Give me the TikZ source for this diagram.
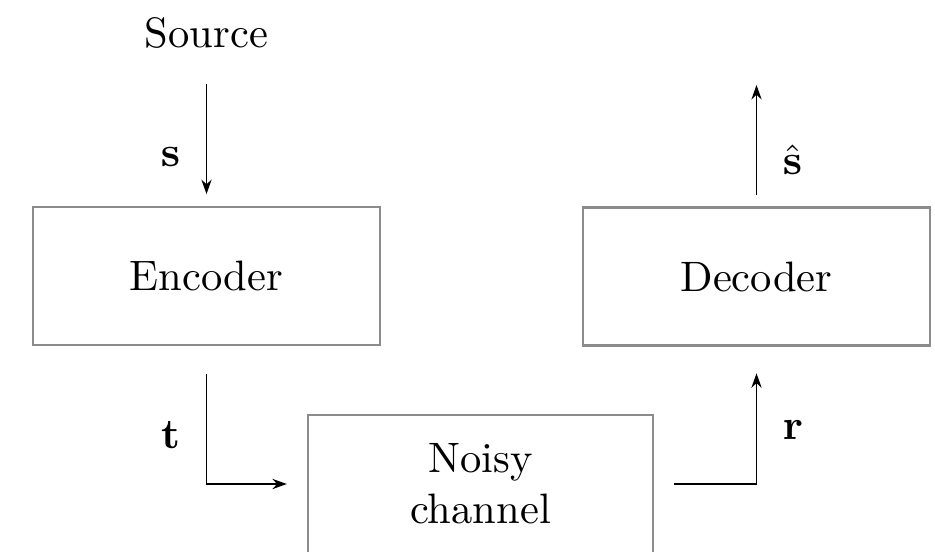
\documentclass[tikz,border=0pt]{standalone}
\usepackage{amsmath,amssymb}
\usepackage{tikz}
\usetikzlibrary{positioning}
\usetikzlibrary{arrows.meta}

\begin{document}
\begin{tikzpicture}[x=0.235pt,y=-0.235pt]
	\useasboundingbox (0,0) rectangle (935,551);
	\begin{scope}[every node/.style={draw=black!45,line width=0.5pt,rectangle,minimum width=81.5pt,minimum height=32.4pt,inner sep=0pt}]
	    \node (enc) at (206.5,276) {Encoder};
	    \node (dec) at (756.5,276.5) {Decoder};
	    \node[align=center,minimum width=81.1pt] (noisy) at (480.5,484) {Noisy\\channel};
	\end{scope}
	\node[inner sep=0pt,anchor=base] (src) at (206.5,48) {Source};
	\coordinate (out) at (756.5,85);

	\begin{scope}[>={Stealth[black,length=3.4pt,width=2.4pt]},
	              every node/.style={inner sep=0pt}]
    	\draw [->,shorten <=8.5pt,shorten >=2.8pt] (src.base) -- node[pos=0.69,left=6pt] {$\mathbf{s}$} (enc.north);
    	\draw [->,shorten <=2.8pt] (dec.north) -- node[pos=0.385,right=6pt] {$\hat{\mathbf{s}}$} (out);
    	\draw [->,shorten <=6.6pt,shorten >=4.7pt] (enc.south) |- node[pos=0.324,left=6pt] {$\mathbf{t}$} (noisy.west);
    	\draw [->,shorten <=4.7pt,shorten >=6.3pt] (noisy.east) -| node[pos=0.696,right=6pt] {$\mathbf{r}$} (dec.south);
	\end{scope}
\end{tikzpicture}
\end{document}
